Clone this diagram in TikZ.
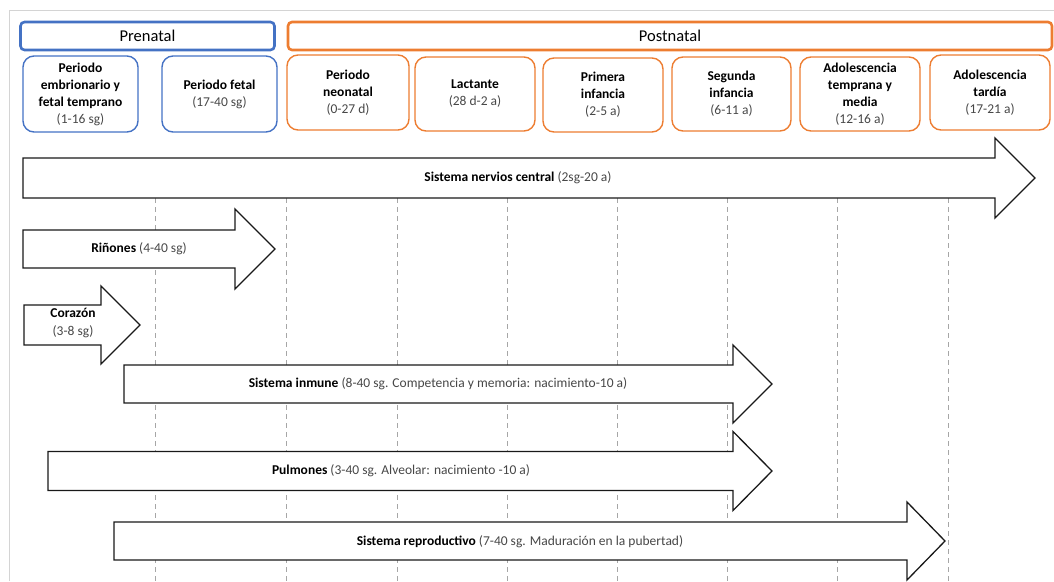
\documentclass[tikz,border=0pt]{standalone}
\usepackage{fontspec}
\setmainfont{Carlito}
\definecolor{pblue}{HTML}{4472C4}
\definecolor{porange}{HTML}{ED7D31}
\definecolor{ptext}{HTML}{474747}
\definecolor{pframe}{HTML}{D4D4D4}
\definecolor{pgrid}{HTML}{A6A6A6}
\tikzset{
  header/.style={draw, line width=2.6pt, rounded corners=4pt, font=\fontsize{16.5}{19}\selectfont, inner sep=0pt},
  phase/.style={draw, line width=1.4pt, rounded corners=11pt, align=center, inner sep=0pt, font=\fontsize{13.5}{17}\selectfont},
  arrowshape/.style={draw=black!90, line width=1.3pt, fill=white, line join=miter},
  alabel/.style={font=\fontsize{13.5}{18}\selectfont, align=center, inner sep=0pt},
  gridline/.style={draw=pgrid, line width=0.8pt, dash pattern=on 5pt off 4pt},
  frameline/.style={draw=pframe, line width=1pt}
}
\newcommand{\bpart}[1]{\textbf{#1}}
\newcommand{\gpart}[1]{\textcolor{ptext}{#1}}
\newcommand{\barrow}[6]{%
  \draw[arrowshape] (#1,{#4-#5}) -- (#2,{#4-#5}) -- (#2,{#4-#6}) -- (#3,#4) -- (#2,{#4+#6}) -- (#2,{#4+#5}) -- (#1,{#4+#5}) -- cycle;}
\begin{document}
\begin{tikzpicture}[x=1pt,y=-1pt]
\useasboundingbox (0,0) rectangle (1054,581);
% frame
\draw[frameline] (9,581) -- (9,10) -- (1054,10);
% grid lines
\foreach \gx in {155,286,397,507,617,727,837,948}
  \draw[gridline] (\gx,198) -- (\gx,581);
% headers
\node[header, draw=pblue, minimum width=254pt, minimum height=28pt] (prenatal) at (147.5,36) {Prenatal};
\node[header, draw=porange, minimum width=764pt, minimum height=28pt] (postnatal) at (670,36) {Postnatal};
% phases
\node[phase, draw=pblue, minimum width=115pt, minimum height=76pt] (p1) at (80.5,94)
  {\bpart{Periodo}\\\bpart{embrionario y}\\\bpart{fetal temprano}\\\gpart{(1-16 sg)}};
\node[phase, draw=pblue, minimum width=115pt, minimum height=76pt] (p2) at (219.5,94)
  {\bpart{Periodo fetal}\\\gpart{(17-40 sg)}};
\node[phase, draw=porange, minimum width=122pt, minimum height=75pt] (p3) at (348,92.5)
  {\bpart{Periodo}\\\bpart{neonatal}\\\gpart{(0-27 d)}};
\node[phase, draw=porange, minimum width=120pt, minimum height=74pt] (p4) at (475,94)
  {\bpart{Lactante}\\\gpart{(28 d-2 a)}};
\node[phase, draw=porange, minimum width=120pt, minimum height=74pt] (p5) at (603,95)
  {\bpart{Primera}\\\bpart{infancia}\\\gpart{(2-5 a)}};
\node[phase, draw=porange, minimum width=119pt, minimum height=74pt] (p6) at (731.5,94)
  {\bpart{Segunda}\\\bpart{infancia}\\\gpart{(6-11 a)}};
\node[phase, draw=porange, minimum width=120pt, minimum height=74pt] (p7) at (860,94)
  {\bpart{Adolescencia}\\\bpart{temprana y}\\\bpart{media}\\\gpart{(12-16 a)}};
\node[phase, draw=porange, minimum width=120pt, minimum height=75pt] (p8) at (990,92.5)
  {\bpart{Adolescencia}\\\bpart{tardía}\\\gpart{(17-21 a)}};
% arrows
\barrow{23}{995}{1035}{178}{20}{40}
\node[alabel] (snc) at (518,178) {\bpart{Sistema nervios central} \gpart{(2sg-20 a)}};
\barrow{23}{235}{275}{249}{19}{40}
\node[alabel] (rin) at (139,249) {\bpart{Riñones} \gpart{(4-40 sg)}};
\barrow{24}{101}{140}{325}{20}{39}
\node[alabel] (cor) at (73,323) {\bpart{Corazón}\\\gpart{(3-8 sg)}};
\barrow{124}{733}{772}{384}{19}{39}
\node[alabel] (inm) at (438,384) {\bpart{Sistema inmune} \gpart{(8-40 sg. Competencia y memoria: nacimiento-10 a)}};
\barrow{48}{733}{772}{471}{19.5}{39.5}
\node[alabel] (pul) at (401,471) {\bpart{Pulmones} \gpart{(3-40 sg. Alveolar: nacimiento -10 a)}};
\barrow{114}{907}{945}{541}{19}{39}
\node[alabel] (rep) at (520,542) {\bpart{Sistema reproductivo} \gpart{(7-40 sg. Maduración en la pubertad)}};
\end{tikzpicture}
\end{document}
